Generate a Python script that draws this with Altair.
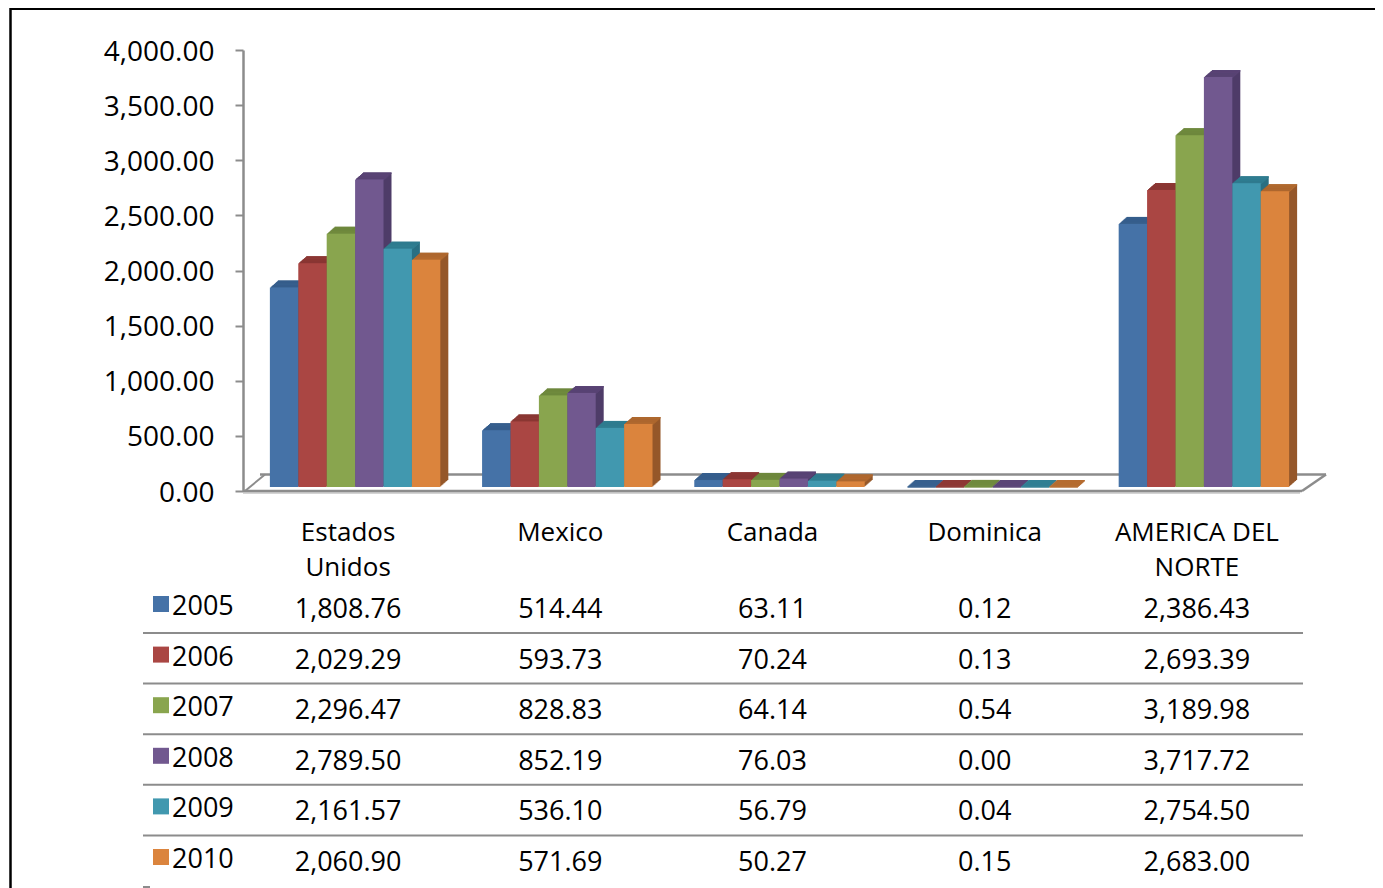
import altair as alt
import pandas as pd

categories = ["Estados Unidos", "Mexico", "Canada", "Dominica", "AMERICA DEL NORTE"]
label_line1 = ["Estados", "Mexico", "Canada", "Dominica", "AMERICA DEL"]
label_line2 = ["Unidos", "", "", "", "NORTE"]
years = ["2005", "2006", "2007", "2008", "2009", "2010"]
v2005 = [1808.76, 514.44, 63.11, 0.12, 2386.43]
v2006 = [2029.29, 593.73, 70.24, 0.13, 2693.39]
v2007 = [2296.47, 828.83, 64.14, 0.54, 3189.98]
v2008 = [2789.50, 852.19, 76.03, 0.00, 3717.72]
v2009 = [2161.57, 536.10, 56.79, 0.04, 2754.50]
v2010 = [2060.90, 571.69, 50.27, 0.15, 2683.00]
series = [v2005, v2006, v2007, v2008, v2009, v2010]
front_colors = ["#4572A7", "#AA4643", "#89A54E", "#71588F", "#4198AF", "#DB843D"]
side_colors = ["#2F5280", "#7D302D", "#647A36", "#4F3C68", "#2A7082", "#95582A"]
top_colors = ["#38618F", "#8E3835", "#718C3F", "#5B4577", "#317F93", "#B56C30"]
y_ticks = [0, 500, 1000, 1500, 2000, 2500, 3000, 3500, 4000]

FONT = "Open Sans"
FS = 27
GRAY = "#8C8C8C"
INK = "#000000"

rows = []
for yr, vals in zip(years, series):
    for cat, v in zip(categories, vals):
        rows.append({"year": yr, "cat": cat, "value": v, "zero": 0,
                     "label": f"{v:,.2f}"})
df = pd.DataFrame(rows)
cat_df = pd.DataFrame({"cat": categories, "l1": label_line1, "l2": label_line2})
yr_df = pd.DataFrame({"year": years})


def x_enc(shift=0):
    return alt.X("cat:N", axis=None, sort=categories,
                 scale=alt.Scale(domain=categories, range=[234 + shift, 1295 + shift],
                                 paddingInner=0, paddingOuter=0))


off_enc = alt.XOffset("year:N", scale=alt.Scale(domain=years, paddingInner=0, paddingOuter=0.735))
y_scale = alt.Scale(domain=[0, 4000], range=[483, 42], nice=False)
y_enc = alt.Y("value:Q", scale=y_scale, axis=None)
y2_zero = alt.Y2("zero:Q")
row_scale = alt.Scale(domain=years, range=[600, 853], type="point", padding=0)
row_enc = alt.Y("year:N", scale=row_scale, axis=None, sort=years)


def col(colors):
    return alt.Color("year:N", scale=alt.Scale(domain=years, range=colors), legend=None)


base = alt.Chart(df)
layers = []

# frame
anchor = alt.Chart(yr_df.head(1))
layers.append(anchor.mark_rule(color="#000000", strokeWidth=2.5).encode(
    x=alt.value(2.5), y=alt.value(0), y2=alt.value(880)))
layers.append(anchor.mark_rule(color="#000000", strokeWidth=3).encode(
    x=alt.value(2.5), x2=alt.value(1375), y=alt.value(0.5)))

# value axis
layers.append(alt.Chart(df).mark_point(opacity=0).encode(
    y=alt.Y("value:Q", scale=y_scale, axis=alt.Axis(
        values=y_ticks, format=",.2f", orient="left", offset=-235, grid=False,
        domainColor=GRAY, domainWidth=2.5, tickColor=GRAY, tickWidth=2, tickSize=8,
        labelFont=FONT, labelFontSize=28, labelColor=INK, labelPadding=21, labelOffset=2,
        title=None, labelOverlap=False)),
    x=alt.value(240)))

# floor
floor_lines = [
    (235, 1292, 484.5, 484.5, "#D4D4D4", 3),
    (235, 1294, 483, 483, GRAY, 2.5),
    (252, 1318, 466.5, 466.5, GRAY, 2.5),
    (237, 257, 483, 466.5, GRAY, 2),
    (1294, 1318, 483, 466.5, GRAY, 2.5),
]
for x1, x2, y1, y2, c, w in floor_lines:
    layers.append(anchor.mark_rule(color=c, strokeWidth=w).encode(
        x=alt.value(x1), x2=alt.value(x2), y=alt.value(y1), y2=alt.value(y2)))

# extruded bars: painted back to front
BAR_DX = 7
BAR_DY = -4
for d in range(8, 0, -1):
    dy = BAR_DY - d * 7 / 8
    layers.append(base.mark_bar(yOffset=dy, y2Offset=dy).encode(
        x=x_enc(BAR_DX + d), xOffset=off_enc, y=y_enc, y2=y2_zero, color=col(side_colors)))
    layers.append(base.mark_bar(yOffset=dy, y2Offset=dy + 1.6).encode(
        x=x_enc(BAR_DX + d), xOffset=off_enc, y=y_enc, y2=alt.Y2("value:Q"), color=col(top_colors)))

# front faces
layers.append(base.mark_bar(yOffset=BAR_DY, y2Offset=BAR_DY).encode(
    x=x_enc(BAR_DX), xOffset=off_enc, y=y_enc, y2=y2_zero, color=col(front_colors)))

# category labels
text_style = dict(font=FONT, fontSize=FS, color=INK)
cat_style = dict(font=FONT, fontSize=26, color=INK)
layers.append(alt.Chart(cat_df).mark_text(baseline="middle", align="center", **cat_style).encode(
    x=x_enc(), y=alt.value(525), text="l1:N"))
layers.append(alt.Chart(cat_df).mark_text(baseline="middle", align="center", **cat_style).encode(
    x=x_enc(), y=alt.value(560), text="l2:N"))

# data table
layers.append(base.mark_text(baseline="middle", align="center", yOffset=2, **text_style).encode(
    x=x_enc(), y=row_enc, text="label:N"))
layers.append(alt.Chart(yr_df.head(5)).mark_rule(color=GRAY, strokeWidth=2, yOffset=25).encode(
    x=alt.value(135), x2=alt.value(1295), y=row_enc))
layers.append(anchor.mark_rule(color=GRAY, strokeWidth=2).encode(
    x=alt.value(135), x2=alt.value(142), y=alt.value(879)))
layers.append(alt.Chart(yr_df).mark_square(size=256, opacity=1, yOffset=-4).encode(
    x=alt.value(153), y=row_enc, color=col(front_colors)))
layers.append(alt.Chart(yr_df).mark_text(baseline="middle", align="left", yOffset=-1, **text_style).encode(
    x=alt.value(164), y=row_enc, text="year:N"))

chart = alt.layer(*layers).resolve_scale(
    x="independent", y="independent", color="independent", xOffset="independent"
).properties(
    width=1367, height=880, padding=0,
    autosize=alt.AutoSizeParams(type="none"),
).configure_view(stroke=None)

chart.save("out.html", embed_options={"renderer": "svg", "actions": False})
